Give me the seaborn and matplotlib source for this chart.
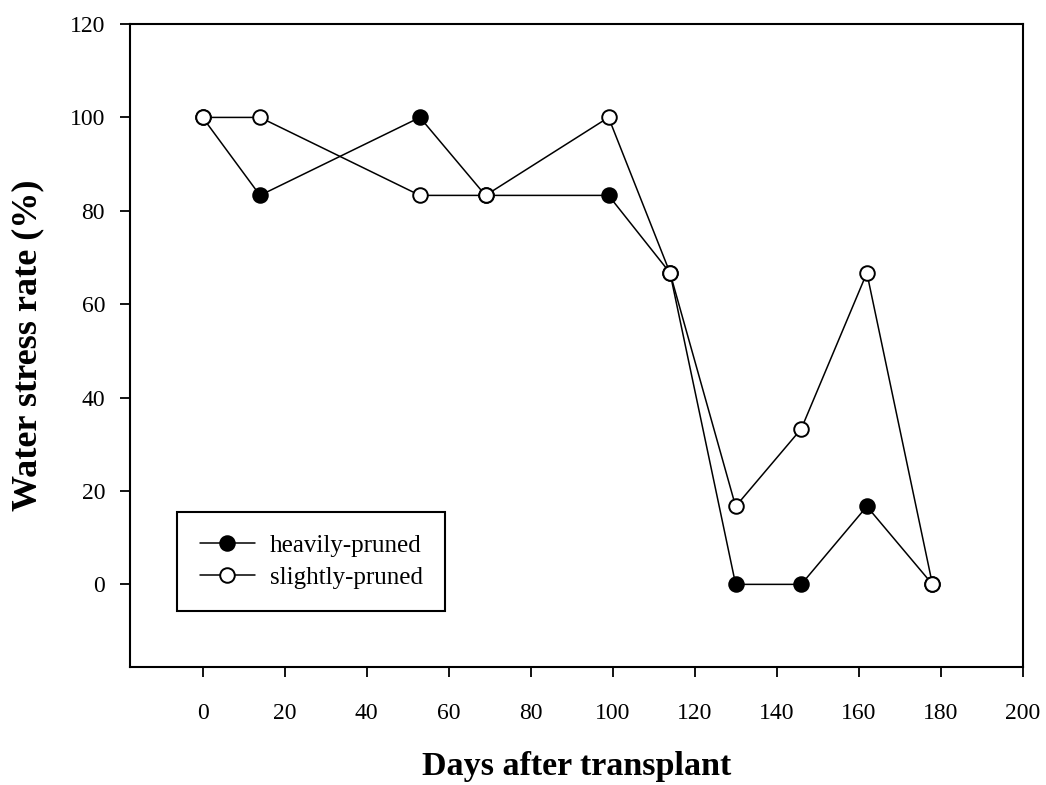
import matplotlib
matplotlib.use("Agg")
import matplotlib.pyplot as plt
import seaborn as sns
import pandas as pd

days = [0, 14, 53, 69, 99, 114, 130, 146, 162, 178]
heavily_pruned = [100, 83.3, 100, 83.3, 83.3, 66.7, 0, 0, 16.7, 0]
slightly_pruned = [100, 100, 83.3, 83.3, 100, 66.7, 16.7, 33.3, 66.7, 0]
x_ticks = list(range(0, 201, 20))
y_ticks = list(range(0, 121, 20))

sns.set_style("ticks")
plt.rcParams["font.family"] = ["Liberation Serif", "DejaVu Serif"]
plt.rcParams["text.color"] = "black"
plt.rcParams["axes.labelcolor"] = "black"

fig = plt.figure(figsize=(10.46, 7.85), dpi=100)
ax = fig.add_axes([0.1243, 0.1503, 0.8534, 0.8191])

df_h = pd.DataFrame({"day": days, "rate": heavily_pruned})
df_s = pd.DataFrame({"day": days, "rate": slightly_pruned})

line_kw = dict(color="black", linewidth=1.1, marker="o", markersize=10.5,
               markeredgecolor="black", markeredgewidth=1.4)
sns.lineplot(data=df_h, x="day", y="rate", ax=ax, markerfacecolor="black",
             label="heavily-pruned", **line_kw)
sns.lineplot(data=df_s, x="day", y="rate", ax=ax, markerfacecolor="white",
             label="slightly-pruned", **line_kw)

ax.set_xlim(-17.7, 200)
ax.set_ylim(-17.7, 120)
ax.set_xticks(x_ticks)
ax.set_yticks(y_ticks)
ax.tick_params(axis="both", direction="out", length=7, width=1.3,
               labelsize=17, color="black", labelcolor="black")
ax.tick_params(axis="x", pad=19)
ax.tick_params(axis="y", pad=11)
for sp in ax.spines.values():
    sp.set_linewidth(1.5)
    sp.set_color("black")

ax.set_xlabel("Days after transplant", fontsize=24.5, fontweight="bold", labelpad=19)
ax.set_ylabel("Water stress rate (%)", fontsize=26, fontweight="bold", labelpad=18)

leg = ax.legend(loc="lower left", bbox_to_anchor=(0.0527, 0.0871),
                borderaxespad=0, fontsize=18, frameon=True, fancybox=False,
                handlelength=2.2, handletextpad=0.6, borderpad=0.9,
                labelspacing=0.38)
leg.get_frame().set_edgecolor("black")
leg.get_frame().set_linewidth(1.5)
leg.get_frame().set_alpha(1)
for t in leg.get_texts():
    t.set_color("black")

fig.savefig("out.png", dpi=100)
